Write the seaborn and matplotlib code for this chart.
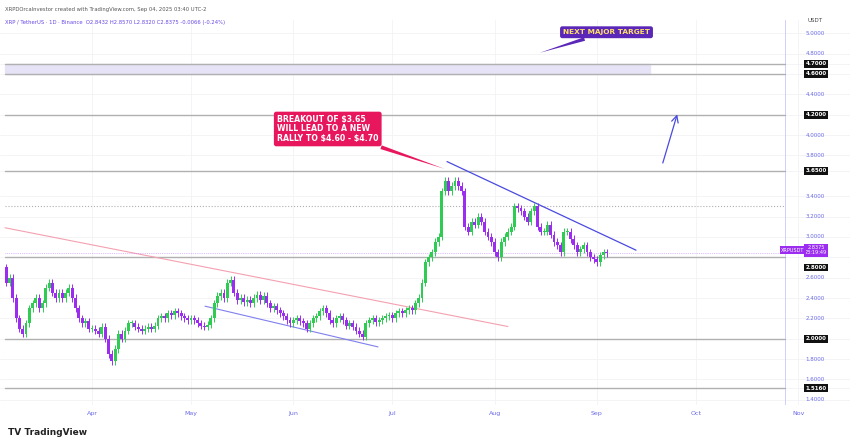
import numpy as np
import pandas as pd
import matplotlib
matplotlib.use("Agg")
import matplotlib.pyplot as plt
import seaborn as sns

start_date = "2025-03-06"
closes_mar = [2.55,2.60,2.40,2.20,2.10,2.05,2.15,2.30,2.35,2.40,2.30,2.35,2.50,2.55,2.45,2.40,2.45,2.40,2.45,2.50,2.40,2.30,2.20,2.15,2.17,2.10]
closes_apr = [2.10,2.08,2.05,2.12,2.00,1.85,1.78,1.90,2.05,2.00,2.08,2.15,2.15,2.12,2.10,2.08,2.10,2.12,2.10,2.13,2.20,2.22,2.20,2.25,2.23,2.27,2.25,2.22,2.20,2.18]
closes_may = [2.20,2.18,2.15,2.13,2.12,2.14,2.20,2.35,2.42,2.45,2.40,2.55,2.58,2.45,2.38,2.40,2.36,2.38,2.35,2.40,2.43,2.38,2.42,2.35,2.30,2.32,2.28,2.25,2.22,2.18,2.15]
closes_jun = [2.18,2.20,2.17,2.15,2.10,2.15,2.20,2.22,2.27,2.30,2.25,2.18,2.15,2.20,2.22,2.18,2.13,2.15,2.12,2.08,2.05,2.02,2.15,2.18,2.20,2.16,2.18,2.20,2.22,2.23]
closes_jul = [2.20,2.25,2.27,2.25,2.28,2.30,2.28,2.35,2.40,2.55,2.75,2.80,2.85,2.95,3.00,3.45,3.55,3.45,3.50,3.55,3.50,3.45,3.10,3.05,3.15,3.12,3.20,3.15,3.05,3.00,2.95]
closes_aug = [2.85,2.80,2.95,3.00,3.05,3.10,3.30,3.28,3.25,3.20,3.15,3.25,3.30,3.10,3.05,3.05,3.12,3.02,2.95,2.92,2.85,3.05,3.05,2.98,2.92,2.85,2.88,2.92,2.85,2.80,2.78]
closes_sep = [2.75,2.82,2.85,2.84]
first_open = 2.70
wick = 0.035

level_prices = [4.70, 4.60, 4.20, 3.65, 2.80, 2.00, 1.516]
level_labels = ["4.7000", "4.6000", "4.2000", "3.6500", "2.8000", "2.0000", "1.5160"]
dotted_level = 3.30
tick_prices = [5.0, 4.8, 4.4, 4.0, 3.8, 3.4, 3.2, 3.0, 2.6, 2.4, 2.2, 1.8, 1.6, 1.4]
month_names = ["Apr", "May", "Jun", "Jul", "Aug", "Sep", "Oct", "Nov"]
month_starts = ["2025-04-01","2025-05-01","2025-06-01","2025-07-01","2025-08-01","2025-09-01","2025-10-01","2025-11-01"]
last_price = 2.8375

closes = closes_mar + closes_apr + closes_may + closes_jun + closes_jul + closes_aug + closes_sep
dates = pd.date_range(start_date, periods=len(closes), freq="D")
ref = pd.Timestamp("2025-04-01")
day = np.array([(d - ref).days for d in dates], dtype=float)
opens = [first_open] + closes[:-1]
df = pd.DataFrame({"day": day, "open": opens, "close": closes})
df["high"] = df[["open", "close"]].max(axis=1) + wick
df["low"] = df[["open", "close"]].min(axis=1) - wick
df["up"] = df["close"] >= df["open"]

sns.set_theme(style="white")
plt.rcParams['font.family'] = ['DejaVu Sans']
fig = plt.figure(figsize=(8.5, 4.45), dpi=100)
ax = fig.add_axes([0, 0.09, 1, 0.865])
px_day = 3.3
x0 = -92 / px_day
x1 = x0 + 850 / px_day
ax.set_xlim(x0, x1)
ax.set_ylim(1.35, 5.13)
for s in ax.spines.values():
    s.set_visible(False)
ax.set_xticks([])
ax.set_yticks([])

def dx(px):
    return x0 + px / px_day

for t in tick_prices + level_prices:
    ax.axhline(t, color="#f3f3f6", lw=0.6, zorder=0)
for m in month_starts:
    ax.axvline((pd.Timestamp(m) - ref).days, color="#f3f3f6", lw=0.6, zorder=0)

ax.axvline(dx(785), color="#c8c8ff", lw=0.6)

ax.fill_between([dx(5), dx(650)], 4.60, 4.70, color="#e6e3f7", zorder=1)
for p in level_prices:
    ax.plot([dx(5), dx(785)], [p, p], color="#b0b0b0", lw=1.0, zorder=2)
ax.plot([dx(5), dx(785)], [dotted_level]*2, color="#b0b0b0", lw=0.8, ls=":", zorder=2)

ax.plot([dx(5), dx(508)], [3.09, 2.12], color="#f4a0b0", lw=0.8, zorder=2)
ax.plot([dx(205), dx(378)], [2.32, 1.92], color="#8080ee", lw=0.8, zorder=2)
ax.plot([dx(447), dx(636)], [3.74, 2.87], color="#4a4ae0", lw=0.9, zorder=4)
ax.annotate("", xy=(dx(678), 4.23), xytext=(dx(662), 3.70),
            arrowprops=dict(arrowstyle="->", color="#4a4ae0", lw=0.9))

green, purple = "#2ecc52", "#9b2cf0"
cols = np.where(df["up"], green, purple)
ax.vlines(df["day"], df["low"], df["high"], colors=cols, lw=0.7, zorder=3)
ax.bar(df["day"], (df["close"] - df["open"]).abs().clip(lower=0.01),
       bottom=df[["open", "close"]].min(axis=1), width=0.85, color=cols, zorder=3, linewidth=0)

ax.plot([dx(5), dx(785)], [last_price]*2, color="#c080ff", lw=0.5, ls=":", zorder=2)

for t in tick_prices:
    ax.text(dx(815), t, f"{t:.4f}", fontsize=4, color="#6a6ae6", ha="center", va="center")
ax.text(dx(815), 5.13, "USDT", fontsize=4, color="#444", ha="center", va="center")
for p, l in zip(level_prices, level_labels):
    yy = p - 0.1 if l == "2.8000" else p
    ax.text(dx(816), yy, l, fontsize=4, color="white", ha="center", va="center", weight="bold",
            bbox=dict(boxstyle="square,pad=0.25", fc="#111", ec="none"))
ax.text(dx(816), last_price + 0.03, "2.8375\n23:19:49", fontsize=3.6, color="white", ha="center", va="center",
        bbox=dict(boxstyle="square,pad=0.25", fc="#9b2cf0", ec="none"), linespacing=1.0)
ax.text(dx(793), last_price + 0.03, "XRPUSDT", fontsize=3.6, color="white", ha="center", va="center",
        bbox=dict(boxstyle="square,pad=0.3", fc="#9b2cf0", ec="none"))

ax.annotate("BREAKOUT OF \\$3.65\nWILL LEAD TO A NEW\nRALLY TO \\$4.60 - \\$4.70",
            xy=(dx(447), 3.66), xytext=(dx(277), 4.06), fontsize=5.6, color="white",
            weight="bold", ha="left", va="center", linespacing=1.1,
            bbox=dict(boxstyle="round,pad=0.4,rounding_size=0.3", fc="#e8175d", ec="none"),
            arrowprops=dict(arrowstyle="wedge,tail_width=0.5", fc="#e8175d", ec="none"))
ax.annotate("NEXT MAJOR TARGET", xy=(dx(537), 4.80), xytext=(dx(563), 5.01), fontsize=5.3,
            color="#ffe066", weight="bold", ha="left", va="center",
            bbox=dict(boxstyle="round,pad=0.4,rounding_size=0.3", fc="#5b27b8", ec="none"),
            arrowprops=dict(arrowstyle="wedge,tail_width=0.5", fc="#5b27b8", ec="none"))

fig.text(0.006, 0.985, "XRPDOrcaInvestor created with TradingView.com, Sep 04, 2025 03:40 UTC-2",
         fontsize=3.8, color="#555", va="top")
fig.text(0.006, 0.955, "XRP / TetherUS · 1D · Binance  O2.8432 H2.8570 L2.8320 C2.8375 -0.0066 (-0.24%)",
         fontsize=3.8, color="#6a4ae6", va="top")

for n, m in zip(month_names, month_starts):
    xd = (pd.Timestamp(m) - ref).days
    fig.text((xd - x0) / (x1 - x0), 0.07, n, fontsize=4.5, color="#6a6ae6", ha="center", va="center")
fig.text(0.01, 0.028, "TV TradingView", fontsize=6.5, color="#222", weight="bold", va="center")

fig.savefig("out.png", dpi=100)
